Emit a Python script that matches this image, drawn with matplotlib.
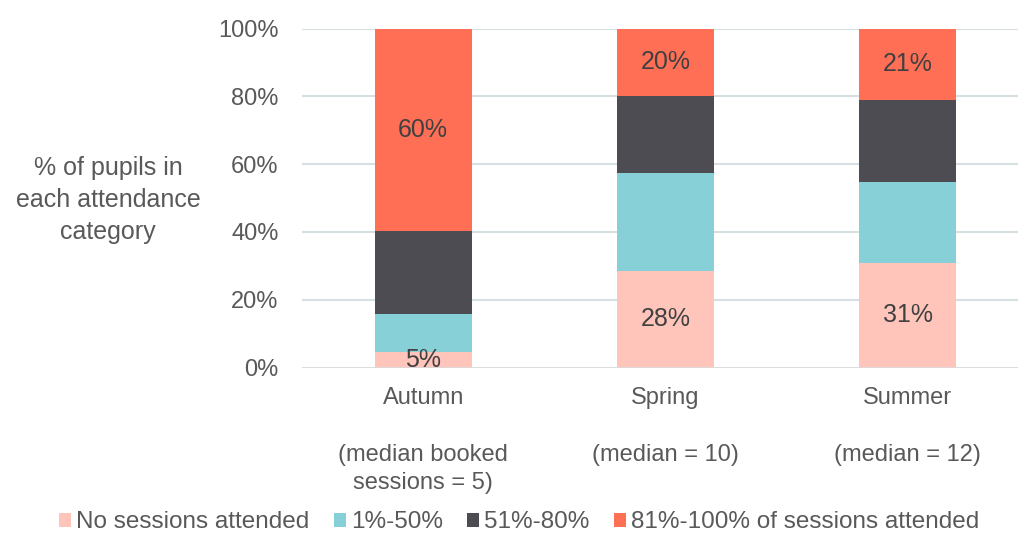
import matplotlib.pyplot as plt
import numpy as np

plt.rcParams['font.family'] = ['Liberation Sans', 'DejaVu Sans']
plt.rcParams['font.size'] = 17

# Data (% of pupils)
terms = ['Autumn', 'Spring', 'Summer']
medians = ['(median booked\nsessions = 5)', '(median = 10)', '(median = 12)']
none_attended = [4.7, 28.4, 30.8]
pct_1_50 = [11.2, 29.0, 23.8]
pct_51_80 = [24.4, 22.7, 24.3]
pct_81_100 = [59.7, 19.9, 21.1]
series_labels = ['No sessions attended', '1%-50%', '51%-80%', '81%-100% of sessions attended']
shown_labels = {0: ['5%', '28%', '31%'], 3: ['60%', '20%', '21%']}

colors = ['#FFC4BA', '#87D0D8', '#4D4C52', '#FF6F55']
text_color = '#595959'

fig = plt.figure(figsize=(10.18, 5.39), dpi=100)
ax = fig.add_axes([302 / 1018, (539 - 367.5) / 539, (1018 - 302) / 1018, (367.5 - 28.5) / 539])

x = np.arange(len(terms))
width = 0.4
bottom = np.zeros(len(terms))
all_series = [none_attended, pct_1_50, pct_51_80, pct_81_100]
for i, vals in enumerate(all_series):
    vals = np.array(vals)
    ax.bar(x, vals, width, bottom=bottom, color=colors[i], label=series_labels[i], zorder=3)
    if i in shown_labels:
        for xi, b, v, lab in zip(x, bottom, vals, shown_labels[i]):
            ax.text(xi, b + v / 2, lab, ha='center', va='center', color='#404040', fontsize=18, zorder=4)
    bottom += vals

ax.set_xlim(-0.5, 2.455)
ax.set_ylim(0, 100)
ax.set_yticks(np.arange(0, 101, 20))
ax.set_yticklabels([f'{v}%' for v in range(0, 101, 20)], color=text_color)
ax.set_xticks(x)
ax.set_xticklabels([f'{t}\n\n{m}' for t, m in zip(terms, medians)], color=text_color,
                   linespacing=1.37, va='top')
ax.tick_params(axis='both', length=0)
ax.tick_params(axis='y', pad=17)
ax.tick_params(axis='x', pad=14)

for s in ax.spines.values():
    s.set_visible(False)
for v in range(20, 101, 20):
    ax.axhline(v, color='#D6E0E3', linewidth=1.5, zorder=1)
ax.axhline(0, color='#D9D9D9', linewidth=2, zorder=5)

fig.text(108 / 1018, 1 - 200 / 539, '% of pupils in\neach attendance\ncategory', ha='center', va='center',
         color=text_color, fontsize=18, linespacing=1.43)

fig.legend(loc='lower center', bbox_to_anchor=(0.51, -0.03), ncol=4, frameon=False,
           handlelength=0.5, handleheight=0.5, handletextpad=0.2, columnspacing=1.0,
           labelcolor=text_color, fontsize=17.5)

plt.savefig('out.png', dpi=100)
